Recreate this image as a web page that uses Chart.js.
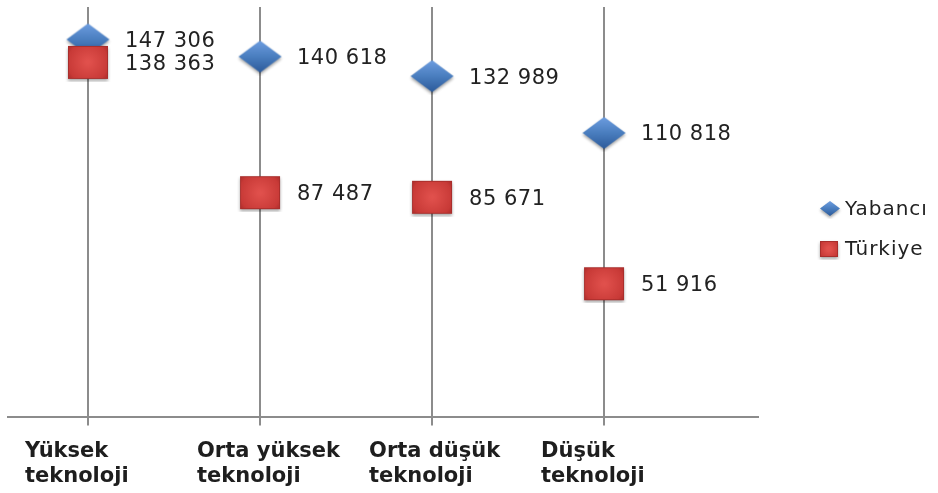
<!DOCTYPE html>
<html>
<head>
<meta charset="utf-8">
<script src="https://cdn.jsdelivr.net/npm/chart.js@4/dist/chart.umd.min.js"></script>
<style>
  html, body { margin: 0; padding: 0; background: #fff; overflow: hidden; }
  canvas { display: block; }
</style>
</head>
<body>
<canvas id="chartTech" width="938" height="493"></canvas>
<script>
const categories = [['Yüksek', 'teknoloji'], ['Orta yüksek', 'teknoloji'], ['Orta düşük', 'teknoloji'], ['Düşük', 'teknoloji']]
const yabanciData = [147306, 140618, 132989, 110818]
const turkiyeData = [138363, 87487, 85671, 51916]
const seriesNames = ['Yabancı', 'Türkiye']

function fmt(v) {
    return String(v).replace(/\B(?=(\d{3})+(?!\d))/g, ' ');
}

// shaded marker images, a bit like the old office look
// shape is drawn in the middle of a canvas that has 3px room for the shadow
function makeDiamond(w, h) {
    const c = document.createElement('canvas');
    c.width = w + 6; c.height = h + 6;
    const g = c.getContext('2d');
    g.translate(3, 3);
    const cx = w / 2, cy = h / 2;
    g.shadowColor = 'rgba(0,0,0,0.35)';
    g.shadowBlur = 3; g.shadowOffsetY = 2;
    const grad = g.createLinearGradient(0, 0, 0, h);
    grad.addColorStop(0, '#6d9de0');
    grad.addColorStop(0.5, '#4a7ebf');
    grad.addColorStop(1, '#2c5a9a');
    g.fillStyle = grad;
    g.beginPath();
    g.moveTo(cx, 0); g.lineTo(w, cy); g.lineTo(cx, h); g.lineTo(0, cy);
    g.closePath(); g.fill();
    return c;
}
function makeSquare(w, h) {
    const c = document.createElement('canvas');
    c.width = w + 6; c.height = h + 6;
    const g = c.getContext('2d');
    g.translate(3, 3);
    g.shadowColor = 'rgba(0,0,0,0.35)';
    g.shadowBlur = 3; g.shadowOffsetY = 2;
    const grad = g.createRadialGradient(w / 2, h / 2, 2, w / 2, h / 2, w * 0.7);
    grad.addColorStop(0, '#e0504c');
    grad.addColorStop(0.7, '#c83a37');
    grad.addColorStop(1, '#9c2624');
    g.fillStyle = grad;
    g.fillRect(0, 0, w, h);
    g.shadowColor = 'transparent';
    g.strokeStyle = '#a82e2c';
    g.lineWidth = 1;
    g.strokeRect(0.5, 0.5, w - 1, h - 1);
    return c;
}

const diamondImg = makeDiamond(43, 32);
const squareImg = makeSquare(40, 33);
const diamondSmall = makeDiamond(20, 15);
const squareSmall = makeSquare(18, 16);

const valueLabels = {
    id: 'valueLabels',
    afterDatasetsDraw(chart) {
        const ctx = chart.ctx;
        ctx.save();
        ctx.font = '21px "DejaVu Sans"';
        ctx.letterSpacing = '0.5px';
        ctx.fillStyle = '#222';
        ctx.textBaseline = 'middle';
        ctx.textAlign = 'left';
        chart.data.datasets.forEach((ds, i) => {
            chart.getDatasetMeta(i).data.forEach((pt, j) => {
                ctx.fillText(fmt(ds.data[j].y), pt.x + 37, pt.y + 2);
            });
        });
        // legend
        ctx.font = '20px "DejaVu Sans"';
        ctx.letterSpacing = '1px';
        ctx.drawImage(diamondSmall, 817, 198);
        ctx.fillText(seriesNames[0], 845, 210);
        ctx.drawImage(squareSmall, 817, 238);
        ctx.fillText(seriesNames[1], 845, 250);
        ctx.restore();
    }
};

const ctxTech = document.getElementById('chartTech').getContext('2d');
const chartTech = new Chart(ctxTech, {
    type: 'scatter',
    data: {
        datasets: [
            {
                label: seriesNames[0],
                data: yabanciData.map((v, i) => ({ x: i, y: v })),
                pointStyle: diamondImg,
                order: 2
            },
            {
                label: seriesNames[1],
                data: turkiyeData.map((v, i) => ({ x: i, y: v })),
                pointStyle: squareImg,
                order: 1
            }
        ]
    },
    options: {
        responsive: false,
        animation: false,
        layout: { padding: { left: 8, right: 180, top: 7, bottom: 0 } },
        plugins: {
            legend: { display: false },
            tooltip: { enabled: false }
        },
        scales: {
            x: {
                type: 'linear',
                min: -0.465,
                max: 3.895,
                afterBuildTicks: s => { s.ticks = [0, 1, 2, 3].map(v => ({ value: v })); },
                // let the second label line run off the bottom edge, like the original
                afterFit: s => { s.height -= 9; },
                grid: { color: '#8c8c8c', lineWidth: 2, tickLength: 9, drawOnChartArea: true },
                border: { color: '#8c8c8c', width: 2 },
                ticks: {
                    padding: 13,
                    align: 'start',
                    labelOffset: -63,
                    color: '#1e1e1e',
                    font: { family: 'DejaVu Sans', size: 21, weight: 'bold', lineHeight: 1.2 },
                    maxRotation: 0,
                    autoSkip: false,
                    callback: v => categories[v]
                }
            },
            y: {
                display: false,
                min: 0,
                max: 160000
            }
        }
    },
    plugins: [valueLabels]
});
</script>
</body>
</html>
